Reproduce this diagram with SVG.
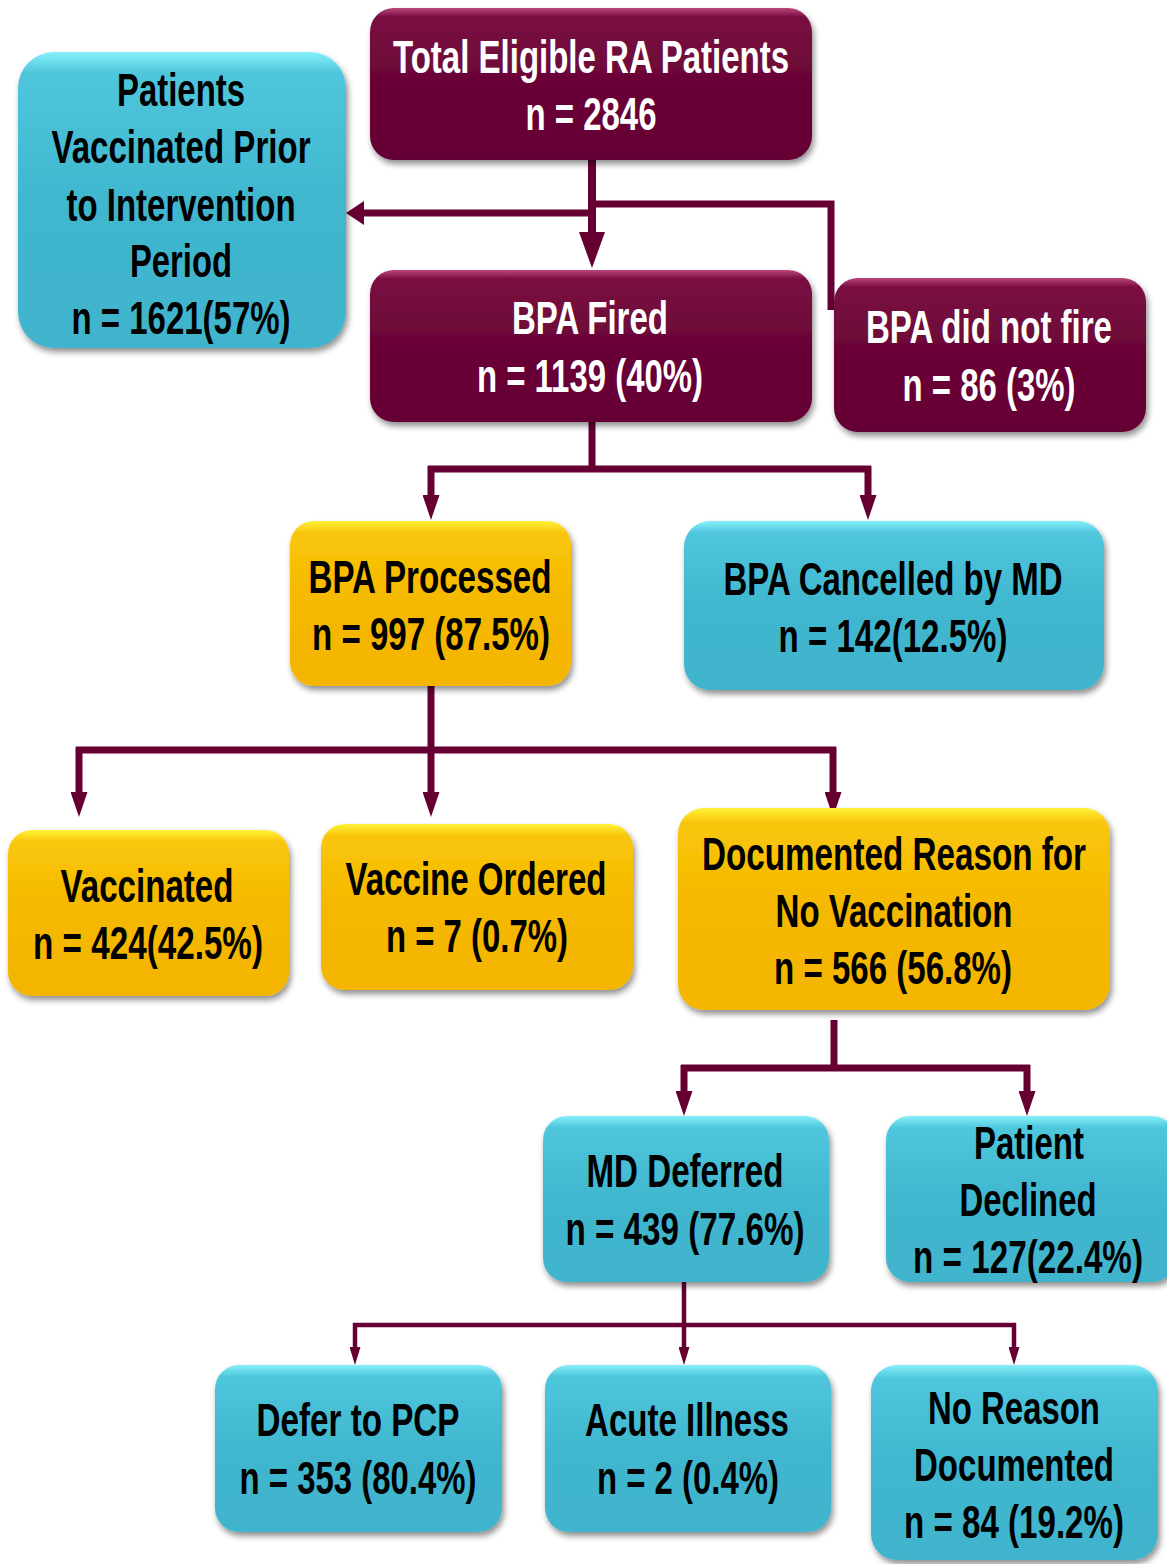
<svg xmlns="http://www.w3.org/2000/svg" width="1167" height="1564" viewBox="0 0 1167 1564">
<defs>
<linearGradient id="gm" x1="0" y1="0" x2="0" y2="1">
<stop offset="0" stop-color="#b8477a"/><stop offset="0.06" stop-color="#7a0d42"/><stop offset="0.5" stop-color="#690535"/><stop offset="1" stop-color="#650434"/>
</linearGradient>
<linearGradient id="gc" x1="0" y1="0" x2="0" y2="1">
<stop offset="0" stop-color="#86f0fb"/><stop offset="0.07" stop-color="#4fc6dc"/><stop offset="0.5" stop-color="#40b7cf"/><stop offset="1" stop-color="#3fb4cc"/>
</linearGradient>
<linearGradient id="gy" x1="0" y1="0" x2="0" y2="1">
<stop offset="0" stop-color="#fff23a"/><stop offset="0.07" stop-color="#f9c60a"/><stop offset="0.5" stop-color="#f5b800"/><stop offset="1" stop-color="#f4b500"/>
</linearGradient>
<filter id="sh" x="-10%" y="-10%" width="125%" height="130%">
<feGaussianBlur in="SourceAlpha" stdDeviation="3"/>
<feOffset dx="2" dy="4"/>
<feComponentTransfer><feFuncA type="linear" slope="0.45"/></feComponentTransfer>
<feMerge><feMergeNode/><feMergeNode in="SourceGraphic"/></feMerge>
</filter>
<marker id="ab" viewBox="0 0 36 26" refX="2" refY="13" markerWidth="36" markerHeight="26" orient="auto" markerUnits="userSpaceOnUse">
<path d="M0,0 L36,13 L0,26 Z" fill="#660033"/>
</marker>
<marker id="al" viewBox="0 0 18 24" refX="2" refY="12" markerWidth="18" markerHeight="24" orient="auto" markerUnits="userSpaceOnUse">
<path d="M0,0 L18,12 L0,24 Z" fill="#660033"/>
</marker>
<marker id="am" viewBox="0 0 25 17" refX="2" refY="8.5" markerWidth="25" markerHeight="17" orient="auto" markerUnits="userSpaceOnUse">
<path d="M0,0 L25,8.5 L0,17 Z" fill="#660033"/>
</marker>
<marker id="as" viewBox="0 0 18 11" refX="2" refY="5.5" markerWidth="18" markerHeight="11" orient="auto" markerUnits="userSpaceOnUse">
<path d="M0,0 L18,5.5 L0,11 Z" fill="#660033"/>
</marker>
</defs>
<style>
.m{fill:url(#gm);filter:url(#sh)}
.c{fill:url(#gc);filter:url(#sh)}
.y{fill:url(#gy);filter:url(#sh)}
text{font-family:"Liberation Sans",Arial,sans-serif;font-weight:bold;font-size:46px;text-anchor:middle}
.w{fill:#ffffff}
.k{fill:#000000}
.l8{fill:none;stroke:#660033;stroke-width:8}
.l7{fill:none;stroke:#660033;stroke-width:7}
.l4{fill:none;stroke:#660033;stroke-width:4.5}
</style>
<rect width="1167" height="1564" fill="#ffffff"/>

<g id="connectors">
<path class="l8" d="M592,160 V234" marker-end="url(#ab)"/>
<path class="l7" d="M592,213 H362" marker-end="url(#al)"/>
<path class="l7" d="M595,204 H831 V310"/>
<path class="l7" d="M592,422 V469"/>
<path class="l7" d="M428,469 H871"/>
<path class="l7" d="M431,466 V497" marker-end="url(#am)"/>
<path class="l7" d="M868,466 V497" marker-end="url(#am)"/>
<path class="l7" d="M431,686 V794" marker-end="url(#am)"/>
<path class="l7" d="M76,750 H836"/>
<path class="l7" d="M79,747 V794" marker-end="url(#am)"/>
<path class="l7" d="M833,747 V794" marker-end="url(#am)"/>
<path class="l7" d="M834,1020 V1068"/>
<path class="l7" d="M681,1068 H1030"/>
<path class="l7" d="M684,1065 V1093" marker-end="url(#am)"/>
<path class="l7" d="M1027,1065 V1093" marker-end="url(#am)"/>
<path class="l4" d="M684,1282 V1349" marker-end="url(#as)"/>
<path class="l4" d="M353,1325 H1016"/>
<path class="l4" d="M355,1323 V1349" marker-end="url(#as)"/>
<path class="l4" d="M1014,1323 V1349" marker-end="url(#as)"/>
</g>

<g id="n1">
<rect class="m" x="370" y="8" width="442" height="152" rx="24"/>
<text class="w" transform="translate(591,73) scale(0.68,1)" textLength="582.4" lengthAdjust="spacingAndGlyphs">Total Eligible RA Patients</text>
<text class="w" transform="translate(591,130) scale(0.68,1)" textLength="192.6" lengthAdjust="spacingAndGlyphs">n = 2846</text>
</g>
<g id="n2">
<rect class="c" x="18" y="52" width="328" height="296" rx="36"/>
<text class="k" transform="translate(181,106) scale(0.68,1)" textLength="188.2" lengthAdjust="spacingAndGlyphs">Patients</text>
<text class="k" transform="translate(181,163) scale(0.68,1)" textLength="380.9" lengthAdjust="spacingAndGlyphs">Vaccinated Prior</text>
<text class="k" transform="translate(181,221) scale(0.68,1)" textLength="336.8" lengthAdjust="spacingAndGlyphs">to Intervention</text>
<text class="k" transform="translate(181,277) scale(0.68,1)" textLength="150" lengthAdjust="spacingAndGlyphs">Period</text>
<text class="k" transform="translate(181,334) scale(0.68,1)" textLength="322.1" lengthAdjust="spacingAndGlyphs">n = 1621(57%)</text>
</g>
<g id="n3">
<rect class="m" x="370" y="270" width="442" height="152" rx="24"/>
<text class="w" transform="translate(590,334) scale(0.68,1)" textLength="229.4" lengthAdjust="spacingAndGlyphs">BPA Fired</text>
<text class="w" transform="translate(590,392) scale(0.68,1)" textLength="332.4" lengthAdjust="spacingAndGlyphs">n = 1139 (40%)</text>
</g>
<g id="n4">
<rect class="m" x="834" y="278" width="312" height="154" rx="24"/>
<text class="w" transform="translate(989,343) scale(0.68,1)" textLength="361.8" lengthAdjust="spacingAndGlyphs">BPA did not fire</text>
<text class="w" transform="translate(989,401) scale(0.68,1)" textLength="254.4" lengthAdjust="spacingAndGlyphs">n = 86 (3%)</text>
</g>
<g id="n5">
<rect class="y" x="290" y="521" width="281" height="165" rx="24"/>
<text class="k" transform="translate(430,593) scale(0.68,1)" textLength="357.4" lengthAdjust="spacingAndGlyphs">BPA Processed</text>
<text class="k" transform="translate(431,650) scale(0.68,1)" textLength="350" lengthAdjust="spacingAndGlyphs">n = 997 (87.5%)</text>
</g>
<g id="n6">
<rect class="c" x="684" y="521" width="420" height="169" rx="26"/>
<text class="k" transform="translate(893,595) scale(0.68,1)" textLength="498.5" lengthAdjust="spacingAndGlyphs">BPA Cancelled by MD</text>
<text class="k" transform="translate(893,652) scale(0.68,1)" textLength="336.8" lengthAdjust="spacingAndGlyphs">n = 142(12.5%)</text>
</g>
<g id="n7">
<rect class="y" x="8" y="830" width="281" height="166" rx="24"/>
<text class="k" transform="translate(147,902) scale(0.68,1)" textLength="254.4" lengthAdjust="spacingAndGlyphs">Vaccinated</text>
<text class="k" transform="translate(148,959) scale(0.68,1)" textLength="338.2" lengthAdjust="spacingAndGlyphs">n = 424(42.5%)</text>
</g>
<g id="n8">
<rect class="y" x="321" y="824" width="312" height="166" rx="24"/>
<text class="k" transform="translate(476,895) scale(0.68,1)" textLength="383.8" lengthAdjust="spacingAndGlyphs">Vaccine Ordered</text>
<text class="k" transform="translate(477,952) scale(0.68,1)" textLength="267.6" lengthAdjust="spacingAndGlyphs">n = 7 (0.7%)</text>
</g>
<g id="n9">
<rect class="y" x="678" y="808" width="432" height="202" rx="26"/>
<text class="k" transform="translate(894,870) scale(0.68,1)" textLength="564.7" lengthAdjust="spacingAndGlyphs">Documented Reason for</text>
<text class="k" transform="translate(894,927) scale(0.68,1)" textLength="348.5" lengthAdjust="spacingAndGlyphs">No Vaccination</text>
<text class="k" transform="translate(893,984) scale(0.68,1)" textLength="350" lengthAdjust="spacingAndGlyphs">n = 566 (56.8%)</text>
</g>
<g id="n10">
<rect class="c" x="543" y="1116" width="286" height="166" rx="24"/>
<text class="k" transform="translate(685,1187) scale(0.68,1)" textLength="289.7" lengthAdjust="spacingAndGlyphs">MD Deferred</text>
<text class="k" transform="translate(685,1245) scale(0.68,1)" textLength="351.5" lengthAdjust="spacingAndGlyphs">n = 439 (77.6%)</text>
</g>
<g id="n11">
<rect class="c" x="886" y="1116" width="290" height="166" rx="24"/>
<text class="k" transform="translate(1029,1159) scale(0.68,1)" textLength="161.8" lengthAdjust="spacingAndGlyphs">Patient</text>
<text class="k" transform="translate(1028,1216) scale(0.68,1)" textLength="201.5" lengthAdjust="spacingAndGlyphs">Declined</text>
<text class="k" transform="translate(1028,1273) scale(0.68,1)" textLength="338.2" lengthAdjust="spacingAndGlyphs">n = 127(22.4%)</text>
</g>
<g id="n12">
<rect class="c" x="215" y="1365" width="287" height="167" rx="24"/>
<text class="k" transform="translate(358,1436) scale(0.68,1)" textLength="298.5" lengthAdjust="spacingAndGlyphs">Defer to PCP</text>
<text class="k" transform="translate(358,1494) scale(0.68,1)" textLength="348.5" lengthAdjust="spacingAndGlyphs">n = 353 (80.4%)</text>
</g>
<g id="n13">
<rect class="c" x="545" y="1365" width="286" height="167" rx="24"/>
<text class="k" transform="translate(687,1436) scale(0.68,1)" textLength="300" lengthAdjust="spacingAndGlyphs">Acute Illness</text>
<text class="k" transform="translate(688,1494) scale(0.68,1)" textLength="267.6" lengthAdjust="spacingAndGlyphs">n = 2 (0.4%)</text>
</g>
<g id="n14">
<rect class="c" x="871" y="1365" width="287" height="195" rx="26"/>
<text class="k" transform="translate(1014,1424) scale(0.68,1)" textLength="252.9" lengthAdjust="spacingAndGlyphs">No Reason</text>
<text class="k" transform="translate(1014,1481) scale(0.68,1)" textLength="294.1" lengthAdjust="spacingAndGlyphs">Documented</text>
<text class="k" transform="translate(1014,1538) scale(0.68,1)" textLength="323.5" lengthAdjust="spacingAndGlyphs">n = 84 (19.2%)</text>
</g>
</svg>
